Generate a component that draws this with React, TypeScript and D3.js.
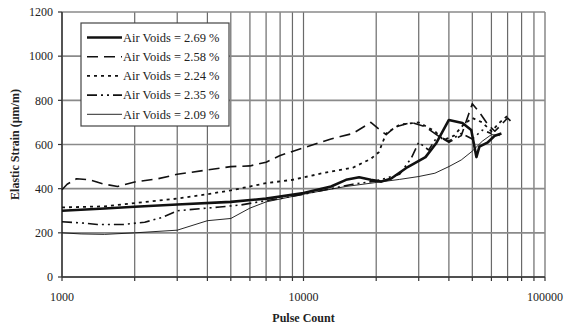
import { useEffect, useRef } from "react"
import * as d3 from "d3"

type Pt = [number, number]

const yTicks = [0, 200, 400, 600, 800, 1000, 1200]
const xLabels = [1000, 10000, 100000]

const labels = [
  "Air Voids = 2.69 %",
  "Air Voids = 2.58 %",
  "Air Voids = 2.24 %",
  "Air Voids = 2.35 %",
  "Air Voids = 2.09 %",
]

const voids269: Pt[] = [
  [1000, 300], [1500, 310], [2000, 318], [3000, 328], [5000, 340], [7000, 355],
  [10000, 380], [13000, 410], [15000, 440], [17000, 452], [19000, 440], [21000, 432],
  [23000, 445], [27000, 498], [32000, 543], [35500, 607], [40000, 711], [45500, 697],
  [49500, 666], [52000, 543], [53500, 590], [58000, 610], [62000, 640], [66000, 650],
]

const voids258: Pt[] = [
  [1000, 395], [1050, 420], [1150, 445], [1300, 440], [1500, 420], [1700, 410],
  [2000, 430], [2500, 445], [3000, 465], [4000, 485], [5000, 500], [6000, 503],
  [7000, 520], [8000, 550], [10000, 585], [13000, 625], [16000, 650], [19000, 700],
  [20500, 670], [22000, 645], [24000, 680], [28000, 700], [32000, 680], [36000, 640],
  [40000, 610], [45000, 640], [50000, 785], [54000, 740], [58000, 690], [62000, 660],
  [66000, 690], [70000, 720], [73000, 700],
]

const voids224: Pt[] = [
  [1000, 315], [1500, 320], [2000, 335], [3000, 355], [4000, 375], [5000, 392],
  [7000, 425], [9000, 440], [12000, 470], [16000, 495], [19000, 535], [20500, 565],
  [22000, 650], [25000, 690], [30000, 700], [35000, 660], [38000, 620], [42000, 640],
  [46000, 690], [50000, 720], [55000, 700], [60000, 660], [65000, 700], [70000, 730],
]

const voids235: Pt[] = [
  [1000, 250], [1200, 245], [1400, 238], [1800, 238], [2200, 248], [2600, 270],
  [3000, 300], [4500, 317], [5500, 326], [6500, 340], [8000, 355], [10000, 375],
  [13000, 400], [16000, 420], [20000, 435], [25000, 465], [28000, 540], [30000, 610],
  [33000, 575], [36000, 640], [40000, 615], [45000, 650], [50000, 625], [55000, 665],
  [60000, 650],
]

const voids209: Pt[] = [
  [1000, 200], [1200, 195], [1500, 193], [2000, 200], [3000, 212], [4000, 255],
  [5000, 265], [6000, 312], [7000, 340], [10000, 375], [15000, 410], [20000, 428],
  [25000, 442], [30000, 455], [35000, 470], [40000, 500], [45000, 530], [50000, 570],
  [55000, 615], [60000, 645], [65000, 640],
]

const seriesData = [voids269, voids258, voids224, voids235, voids209]
const strokeWidths = [2.6, 1.6, 1.8, 1.6, 0.9]
const dashes = ["none", "11,6", "3,4", "10,4,2,4,2,4", "none"]

export default function App() {
  const svgRef = useRef<SVGSVGElement>(null)

  useEffect(() => {
    const svg = d3.select(svgRef.current)
    svg.selectAll("*").remove()

    const width = 567
    const height = 329
    const left = 62, right = 545, top = 12, bottom = 277
    const font = "'Liberation Serif', 'Times New Roman', serif"

    svg.attr("width", width).attr("height", height)

    const x = d3.scaleLog().domain([1000, 100000]).range([left, right])
    const y = d3.scaleLinear().domain([0, 1200]).range([bottom, top])

    svg.append("rect").attr("width", width).attr("height", height).attr("fill", "white")

    // grid
    const xGrid = x.ticks()
    svg.append("g")
      .selectAll("line")
      .data(xGrid)
      .enter()
      .append("line")
      .attr("x1", d => x(d)).attr("x2", d => x(d))
      .attr("y1", top).attr("y2", bottom)
      .attr("stroke", "#6a6a6a")
      .attr("stroke-width", 1.2)

    svg.append("g")
      .selectAll("line")
      .data(yTicks)
      .enter()
      .append("line")
      .attr("x1", left).attr("x2", right)
      .attr("y1", d => y(d)).attr("y2", d => y(d))
      .attr("stroke", "#8a8a8a")
      .attr("stroke-width", 1.6)

    // axes lines + ticks
    svg.append("line")
      .attr("x1", left).attr("x2", left).attr("y1", top).attr("y2", bottom)
      .attr("stroke", "#333").attr("stroke-width", 1.4)
    svg.append("line")
      .attr("x1", left).attr("x2", right).attr("y1", bottom).attr("y2", bottom)
      .attr("stroke", "#333").attr("stroke-width", 1.4)

    svg.append("g").selectAll("line").data(yTicks).enter().append("line")
      .attr("x1", left - 4).attr("x2", left)
      .attr("y1", d => y(d)).attr("y2", d => y(d))
      .attr("stroke", "#333").attr("stroke-width", 1.2)

    svg.append("g").selectAll("line").data(xGrid).enter().append("line")
      .attr("x1", d => x(d)).attr("x2", d => x(d))
      .attr("y1", bottom).attr("y2", bottom + 4)
      .attr("stroke", "#333").attr("stroke-width", 1.2)

    // tick labels
    svg.append("g").selectAll("text").data(yTicks).enter().append("text")
      .attr("x", left - 9)
      .attr("y", d => y(d))
      .attr("dy", "0.35em")
      .attr("text-anchor", "end")
      .attr("font-family", font)
      .attr("font-size", "12px")
      .attr("fill", "#222")
      .text(d => d)

    svg.append("g").selectAll("text").data(xLabels).enter().append("text")
      .attr("x", d => x(d))
      .attr("y", bottom + 24)
      .attr("text-anchor", "middle")
      .attr("font-family", font)
      .attr("font-size", "12px")
      .attr("fill", "#222")
      .text(d => d)

    // axis titles
    svg.append("text")
      .attr("transform", `translate(19, ${(top + bottom) / 2}) rotate(-90)`)
      .attr("text-anchor", "middle")
      .attr("font-family", font)
      .attr("font-size", "12px")
      .attr("font-weight", "bold")
      .attr("fill", "#222")
      .text("Elastic Strain (μm/m)")

    svg.append("text")
      .attr("x", x(10000))
      .attr("y", 322)
      .attr("text-anchor", "middle")
      .attr("font-family", font)
      .attr("font-size", "12px")
      .attr("font-weight", "bold")
      .attr("fill", "#222")
      .text("Pulse Count")

    // series
    const line = d3.line<Pt>().x(d => x(d[0])).y(d => y(d[1]))
    const plot = svg.append("g")
    seriesData.forEach((s, i) => {
      plot.append("path")
        .attr("d", line(s)!)
        .attr("fill", "none")
        .attr("stroke", "#111")
        .attr("stroke-width", strokeWidths[i])
        .attr("stroke-dasharray", dashes[i])
        .attr("stroke-linejoin", "round")
    })

    // legend
    const legend = svg.append("g").attr("transform", "translate(81, 23)")
    legend.append("rect")
      .attr("width", 148).attr("height", 103)
      .attr("fill", "white")
      .attr("stroke", "#444").attr("stroke-width", 1.2)

    const items = legend.selectAll(".item").data(labels).enter().append("g")
      .attr("transform", (d, i) => `translate(0, ${14.5 + i * 19.2})`)

    items.append("line")
      .attr("x1", 6).attr("x2", 41)
      .attr("stroke", "#111")
      .attr("stroke-width", (d, i) => strokeWidths[i])
      .attr("stroke-dasharray", (d, i) => dashes[i])

    items.append("text")
      .attr("x", 42)
      .attr("dy", "0.35em")
      .attr("font-family", font)
      .attr("font-size", "12.5px")
      .attr("fill", "#222")
      .text(d => d)
  }, [])

  return (
    <div style={{ position: "absolute", left: 0, top: 0 }}>
      <svg ref={svgRef}></svg>
    </div>
  )
}
